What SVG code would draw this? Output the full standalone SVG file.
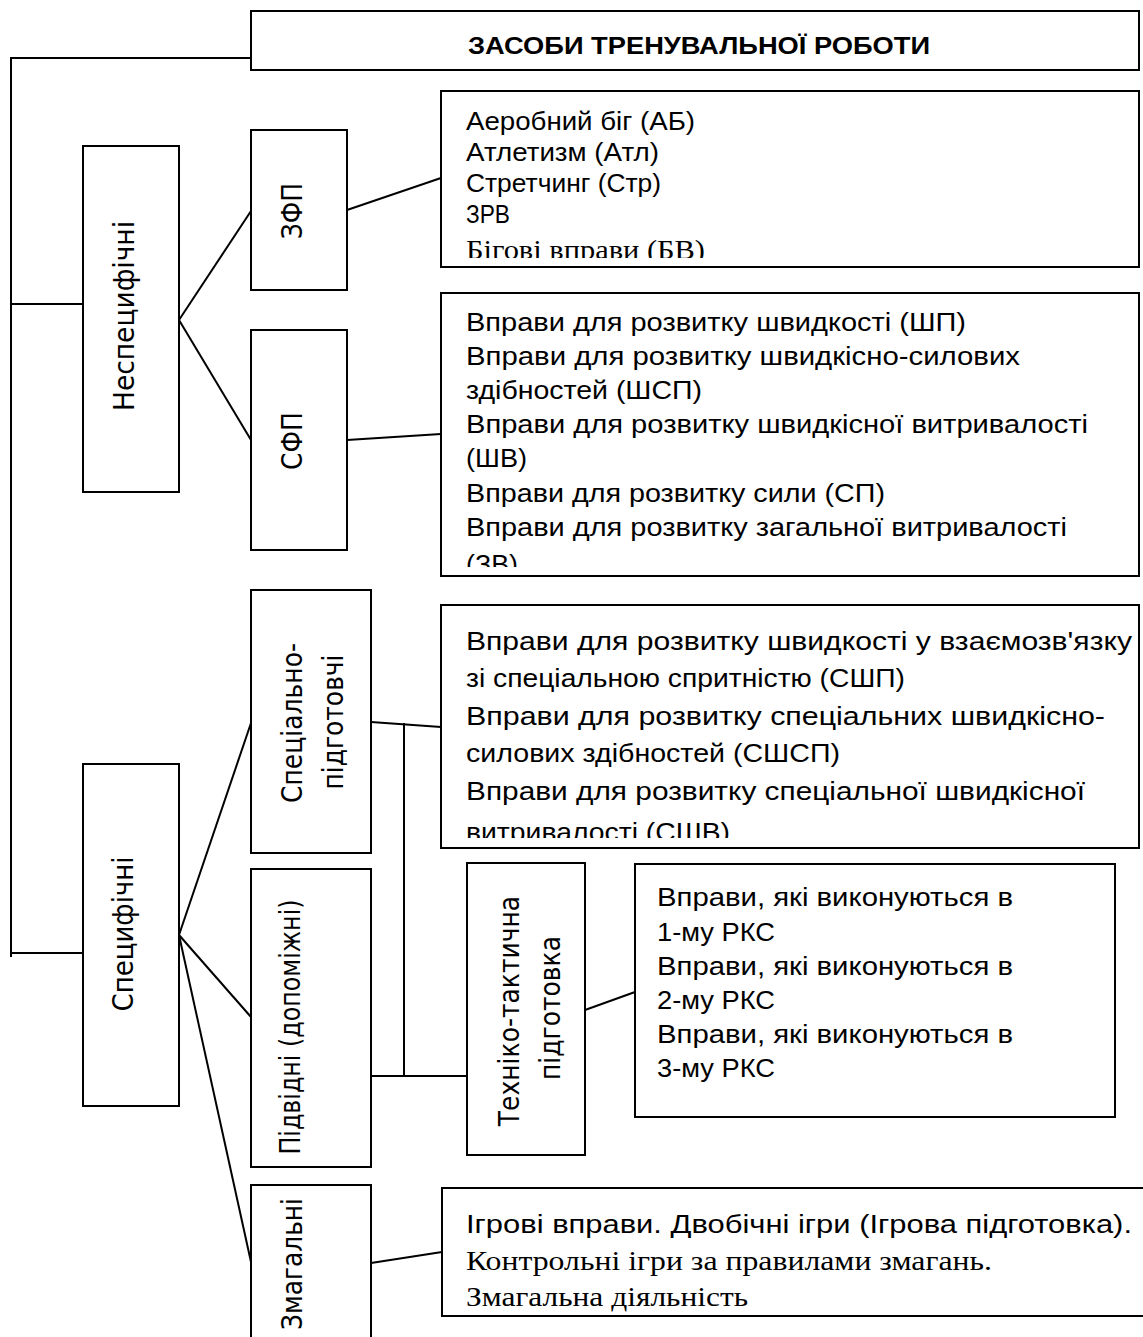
<svg xmlns="http://www.w3.org/2000/svg" width="1143" height="1337" viewBox="0 0 1143 1337">
<style>
.box{fill:#fff;stroke:#000;stroke-width:2}
.ln{fill:none;stroke:#000;stroke-width:2}
.rot{font-family:"DejaVu Sans",Verdana,sans-serif;font-size:25px;text-anchor:middle;fill:#000}
.lst{font-family:"Liberation Sans",Arial,sans-serif;font-size:26px;fill:#000}
.ser{font-family:"Liberation Serif","Times New Roman",serif;font-size:28px;fill:#000}
.ttl{font-family:"Liberation Sans",Arial,sans-serif;font-size:23px;font-weight:bold;text-anchor:middle;fill:#000}
</style>
<defs>
<clipPath id="cZ"><rect x="441" y="91" width="698" height="167"/></clipPath>
<clipPath id="cS"><rect x="441" y="293" width="698" height="274"/></clipPath>
<clipPath id="cSP"><rect x="441" y="605" width="698" height="233"/></clipPath>
</defs>
<rect width="1143" height="1337" fill="#fff"/>
<g id="connectors">
<path class="ln" d="M251,58 H11 V957"/>
<path class="ln" d="M11,304 H83"/>
<path class="ln" d="M11,953 H83"/>
<path class="ln" d="M179,320 L251,211"/>
<path class="ln" d="M179,320 L251,440"/>
<path class="ln" d="M347,210 L441,178"/>
<path class="ln" d="M347,440 L441,434"/>
<path class="ln" d="M179,935 L251,723"/>
<path class="ln" d="M179,935 L251,1017"/>
<path class="ln" d="M179,935 L251,1262"/>
<path class="ln" d="M371,722 L441,727"/>
<path class="ln" d="M404,723 V1076"/>
<path class="ln" d="M371,1076 H467"/>
<path class="ln" d="M585,1010 L635,992"/>
<path class="ln" d="M371,1263 L442,1252"/>
</g>
<g id="title">
<rect class="box" x="251" y="11" width="888" height="59"/>
<text class="ttl" x="699" y="54" textLength="462" lengthAdjust="spacingAndGlyphs">ЗАСОБИ ТРЕНУВАЛЬНОЇ РОБОТИ</text>
</g>
<g id="nespec">
<rect class="box" x="83" y="146" width="96" height="346"/>
<text class="rot" transform="translate(134,316) rotate(-90) scale(1,1.15)" textLength="190" lengthAdjust="spacingAndGlyphs">Неспецифічні</text>
</g>
<g id="zfp">
<rect class="box" x="251" y="130" width="96" height="160"/>
<text class="rot" transform="translate(302,211) rotate(-90) scale(1,1.15)">ЗФП</text>
</g>
<g id="sfp">
<rect class="box" x="251" y="330" width="96" height="220"/>
<text class="rot" transform="translate(302,441) rotate(-90) scale(1,1.15)">СФП</text>
</g>
<g id="zfp-list">
<rect class="box" x="441" y="91" width="698" height="176"/>
<g clip-path="url(#cZ)">
<text class="lst" x="466" y="130" textLength="229" lengthAdjust="spacingAndGlyphs">Аеробний біг (АБ)</text>
<text class="lst" x="466" y="161" textLength="193" lengthAdjust="spacingAndGlyphs">Атлетизм (Атл)</text>
<text class="lst" x="466" y="192" textLength="195" lengthAdjust="spacingAndGlyphs">Стретчинг (Стр)</text>
<text class="lst" x="466" y="223" textLength="44" lengthAdjust="spacingAndGlyphs">ЗРВ</text>
<text class="ser" x="466" y="259" textLength="239" lengthAdjust="spacingAndGlyphs">Бігові вправи (БВ)</text>
</g>
</g>
<g id="sfp-list">
<rect class="box" x="441" y="293" width="698" height="283"/>
<g clip-path="url(#cS)">
<text class="lst" x="466" y="331" textLength="500" lengthAdjust="spacingAndGlyphs">Вправи для розвитку швидкості (ШП)</text>
<text class="lst" x="466" y="365" textLength="554" lengthAdjust="spacingAndGlyphs">Вправи для розвитку швидкісно-силових</text>
<text class="lst" x="466" y="399" textLength="236" lengthAdjust="spacingAndGlyphs">здібностей (ШСП)</text>
<text class="lst" x="466" y="433" textLength="622" lengthAdjust="spacingAndGlyphs">Вправи для розвитку швидкісної витривалості</text>
<text class="lst" x="466" y="467" textLength="61" lengthAdjust="spacingAndGlyphs">(ШВ)</text>
<text class="lst" x="466" y="502" textLength="419" lengthAdjust="spacingAndGlyphs">Вправи для розвитку сили (СП)</text>
<text class="lst" x="466" y="536" textLength="601" lengthAdjust="spacingAndGlyphs">Вправи для розвитку загальної витривалості</text>
<text class="lst" x="466" y="573" textLength="52" lengthAdjust="spacingAndGlyphs">(ЗВ)</text>
</g>
</g>
<g id="spec">
<rect class="box" x="83" y="764" width="96" height="342"/>
<text class="rot" transform="translate(133,934) rotate(-90) scale(1,1.15)" textLength="155" lengthAdjust="spacingAndGlyphs">Специфічні</text>
</g>
<g id="specpid">
<rect class="box" x="251" y="590" width="120" height="263"/>
<text class="rot" transform="translate(302,723) rotate(-90) scale(1,1.15)" textLength="160" lengthAdjust="spacingAndGlyphs">Спеціально-</text>
<text class="rot" transform="translate(343,722) rotate(-90) scale(1,1.15)" textLength="135" lengthAdjust="spacingAndGlyphs">підготовчі</text>
</g>
<g id="specpid-list">
<rect class="box" x="441" y="605" width="698" height="243"/>
<g clip-path="url(#cSP)">
<text class="lst" x="466" y="650" textLength="666" lengthAdjust="spacingAndGlyphs">Вправи для розвитку швидкості у взаємозв'язку</text>
<text class="lst" x="466" y="687" textLength="439" lengthAdjust="spacingAndGlyphs">зі спеціальною спритністю (СШП)</text>
<text class="lst" x="466" y="725" textLength="639" lengthAdjust="spacingAndGlyphs">Вправи для розвитку спеціальних швидкісно-</text>
<text class="lst" x="466" y="762" textLength="374" lengthAdjust="spacingAndGlyphs">силових здібностей (СШСП)</text>
<text class="lst" x="466" y="800" textLength="619" lengthAdjust="spacingAndGlyphs">Вправи для розвитку спеціальної швидкісної</text>
<text class="lst" x="466" y="841" textLength="264" lengthAdjust="spacingAndGlyphs">витривалості (СШВ)</text>
</g>
</g>
<g id="pidvidni">
<rect class="box" x="251" y="869" width="120" height="298"/>
<text class="rot" transform="translate(300,1027) rotate(-90) scale(1,1.15)" textLength="255" lengthAdjust="spacingAndGlyphs">Підвідні (допоміжні)</text>
</g>
<g id="tehniko">
<rect class="box" x="467" y="863" width="118" height="292"/>
<text class="rot" transform="translate(519,1011) rotate(-90) scale(1,1.15)">Техніко-тактична</text>
<text class="rot" transform="translate(560,1008) rotate(-90) scale(1,1.15)">підготовка</text>
</g>
<g id="rks-list">
<rect class="box" x="635" y="864" width="480" height="253"/>
<text class="lst" x="657" y="906" textLength="356" lengthAdjust="spacingAndGlyphs">Вправи, які виконуються в</text>
<text class="lst" x="657" y="941" textLength="118" lengthAdjust="spacingAndGlyphs">1-му РКС</text>
<text class="lst" x="657" y="975" textLength="356" lengthAdjust="spacingAndGlyphs">Вправи, які виконуються в</text>
<text class="lst" x="657" y="1009" textLength="118" lengthAdjust="spacingAndGlyphs">2-му РКС</text>
<text class="lst" x="657" y="1043" textLength="356" lengthAdjust="spacingAndGlyphs">Вправи, які виконуються в</text>
<text class="lst" x="657" y="1077" textLength="118" lengthAdjust="spacingAndGlyphs">3-му РКС</text>
</g>
<g id="zmagalni">
<rect class="box" x="251" y="1185" width="120" height="170"/>
<text class="rot" transform="translate(302,1264) rotate(-90) scale(1,1.15)" textLength="132" lengthAdjust="spacingAndGlyphs">Змагальні</text>
</g>
<g id="zmagalni-list">
<rect class="box" x="442" y="1188" width="710" height="128"/>
<text class="lst" x="466" y="1233" textLength="666" lengthAdjust="spacingAndGlyphs">Ігрові вправи. Двобічні ігри (Ігрова підготовка).</text>
<text class="ser" x="466" y="1270" textLength="526" lengthAdjust="spacingAndGlyphs">Контрольні ігри за правилами змагань.</text>
<text class="ser" x="466" y="1306" textLength="282" lengthAdjust="spacingAndGlyphs">Змагальна діяльність</text>
</g>
</svg>
